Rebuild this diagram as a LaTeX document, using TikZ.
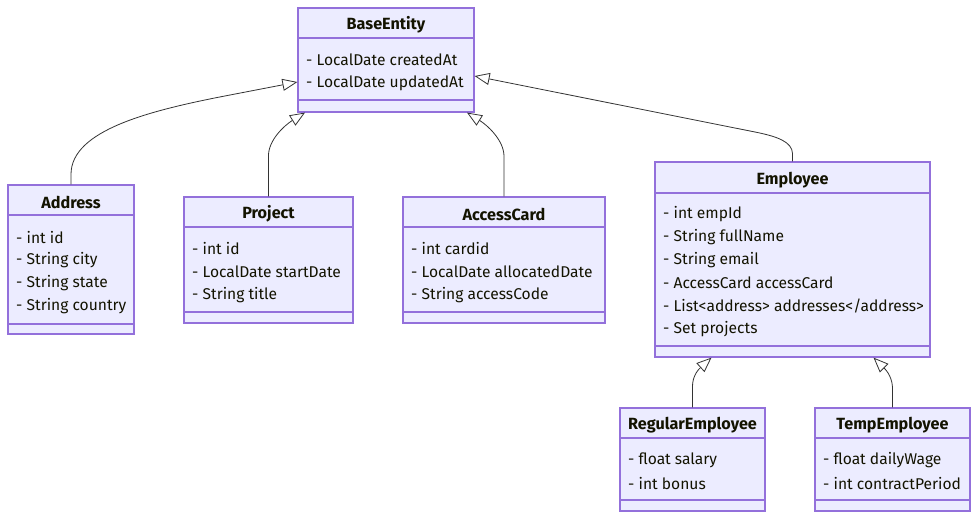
\documentclass[tikz,border=0pt]{standalone}
\usepackage{fontspec}
\setmainfont{Fira Sans}
\usetikzlibrary{fit,arrows.meta}
\definecolor{boxfill}{HTML}{ECECFF}
\definecolor{boxline}{HTML}{9370DB}
\definecolor{edgecol}{HTML}{333333}
\definecolor{txt}{HTML}{131300}
\tikzset{
  cls/.style={draw=boxline, fill=boxfill, line width=1.2pt, inner sep=0pt},
  divider/.style={draw=boxline, line width=1.2pt},
  ttl/.style={font=\fontsize{16.2}{19}\selectfont\bfseries, text=txt, anchor=center, inner sep=0pt, yshift=-1pt},
  attr/.style={font=\fontsize{15.6}{19}\selectfont, text=txt, anchor=west, inner sep=0pt, yshift=-1pt},
  inh/.style={draw=edgecol, line width=0.8pt, -{Triangle[open, length=15pt, width=12pt, fill=white]}},
}
\begin{document}
\begin{tikzpicture}[x=1pt,y=-1pt]
\useasboundingbox (0,0) rectangle (979,520);

% BaseEntity
\node[cls, fit={(298,8)(474,112)}] (be) {};
\draw[divider] (298,38) -- (474,38);
\draw[divider] (298,100) -- (474,100);
\node[ttl] (beT) at (386,24) {BaseEntity};
\node[attr] (be1) at (306,59) {- LocalDate createdAt};
\node[attr] (be2) at (306,82) {- LocalDate updatedAt};

% Address
\node[cls, fit={(8,185)(134,334)}] (ad) {};
\draw[divider] (8,215) -- (134,215);
\draw[divider] (8,324) -- (134,324);
\node[ttl] (adT) at (71,201) {Address};
\node[attr] (ad1) at (16,237) {- int id};
\node[attr] (ad2) at (16,259) {- String city};
\node[attr] (ad3) at (16,282) {- String state};
\node[attr] (ad4) at (16,305) {- String country};

% Project
\node[cls, fit={(184,197)(353,323)}] (pr) {};
\draw[divider] (184,227) -- (353,227);
\draw[divider] (184,312) -- (353,312);
\node[ttl] (prT) at (268.5,213) {Project};
\node[attr] (pr1) at (192,248) {- int id};
\node[attr] (pr2) at (192,271) {- LocalDate startDate};
\node[attr] (pr3) at (192,294) {- String title};

% AccessCard
\node[cls, fit={(403,197)(605,323)}] (ac) {};
\draw[divider] (403,227) -- (605,227);
\draw[divider] (403,312) -- (605,312);
\node[ttl] (acT) at (504,213) {AccessCard};
\node[attr] (ac1) at (411,248) {- int cardid};
\node[attr] (ac2) at (411,271) {- LocalDate allocatedDate};
\node[attr] (ac3) at (411,294) {- String accessCode};

% Employee
\node[cls, fit={(655,162)(930,357)}] (em) {};
\draw[divider] (655,193) -- (930,193);
\draw[divider] (655,346) -- (930,346);
\node[ttl] (emT) at (792.5,179) {Employee};
\node[attr] (em1) at (663,213) {- int empId};
\node[attr] (em2) at (663,236) {- String fullName};
\node[attr] (em3) at (663,259) {- String email};
\node[attr] (em4) at (663,282) {- AccessCard accessCard};
\node[attr] (em5) at (663,305) {- List<address> addresses</address>};
\node[attr] (em6) at (663,328) {- Set projects};

% RegularEmployee
\node[cls, fit={(620,408)(765,511)}] (re) {};
\draw[divider] (620,438) -- (765,438);
\draw[divider] (620,500) -- (765,500);
\node[ttl] (reT) at (692.5,424) {RegularEmployee};
\node[attr] (re1) at (628,459) {- float salary};
\node[attr] (re2) at (628,482) {- int bonus};

% TempEmployee
\node[cls, fit={(815,408)(970,511)}] (te) {};
\draw[divider] (815,438) -- (970,438);
\draw[divider] (815,500) -- (970,500);
\node[ttl] (teT) at (892.5,424) {TempEmployee};
\node[attr] (te1) at (823,459) {- float dailyWage};
\node[attr] (te2) at (823,482) {- int contractPeriod};

% inheritance edges
\draw[inh] (ad.north) -- ++(0,-10) .. controls (71,130) and (150,110.3) .. (230,95) -- ([yshift=-22pt]be.west);
\draw[inh] (pr.north) -- ++(0,-40) .. controls (268,140) and (285,125) .. ([xshift=-81pt]be.south);
\draw[inh] (ac.north) -- ++(0,-40) .. controls (504,140) and (487,125) .. ([xshift=81pt]be.south);
\draw[inh] (em.north) -- ++(0,-8) .. controls (792,142) and (778,136.6) .. (755,132) -- ([yshift=-16pt]be.east);
\draw[inh] (re.north) -- ++(0,-20) .. controls (692,375) and (700,368) .. ([xshift=-81pt]em.south);
\draw[inh] (te.north) -- ++(0,-20) .. controls (892,375) and (884,368) .. ([xshift=81pt]em.south);
\end{tikzpicture}
\end{document}
